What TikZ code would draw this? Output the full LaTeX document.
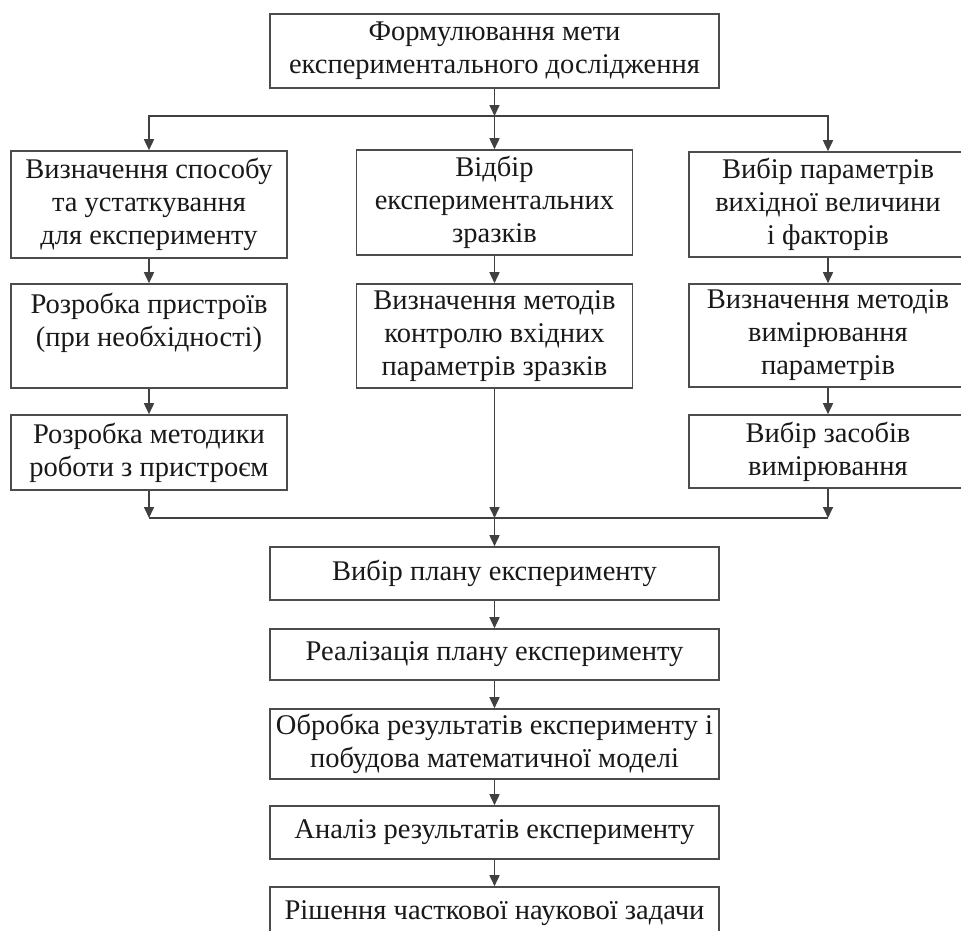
\documentclass[tikz,border=0pt]{standalone}
\usepackage{fontspec}
\setmainfont{Liberation Serif}
\usetikzlibrary{arrows.meta,positioning}

\begin{document}
\begin{tikzpicture}[
  x=1pt, y=-1pt,
  font=\fontsize{28.5}{33}\selectfont,
  stage/.style={draw=black!70, line width=1.6pt, align=center, inner sep=0pt, text=black!90},
  colbox/.style={stage, minimum width=276pt},
  widebox/.style={stage, minimum width=449pt},
  flow/.style={draw=black!75, line width=1.6pt},
  >={Triangle[length=11pt, width=10pt]}
]
\useasboundingbox (0,0) rectangle (961,930);
\fill[white] (0,0) rectangle (961,930);
\node[widebox, minimum height=74pt] (goal) at (494.5,51) {Формулювання мети\\експериментального дослідження};
% left column
\node[colbox, minimum height=107pt] (way) at (149,204.5) {Визначення способу\\та устаткування\\для експерименту};
\node[colbox, minimum height=104pt] (dev) at (149,336) {Розробка пристроїв\\(при необхідності)\\\mbox{}};
\node[colbox, minimum height=75pt] (method) at (149,452.5) {Розробка методики\\роботи з пристроєм};
% middle column
\node[colbox, minimum height=105pt] (samples) at (494.5,202.5) {Відбір\\експериментальних\\зразків};
\node[colbox, minimum height=104pt] (control) at (494.5,336) {Визначення методів\\контролю вхідних\\параметрів зразків};
% right column
\node[colbox, minimum width=278pt, minimum height=105pt] (params) at (828,204.5) {Вибір параметрів\\вихідної величини\\і факторів};
\node[colbox, minimum width=278pt, minimum height=103pt] (measure) at (828,335.5) {Визначення методів\\вимірювання\\параметрів};
\node[colbox, minimum width=278pt, minimum height=73pt] (tools) at (828,451.5) {Вибір засобів\\вимірювання};
% bottom chain
\node[widebox, minimum height=53pt] (plan) at (494.5,573.5) {Вибір плану експерименту};
\node[widebox, minimum height=51pt] (run) at (494.5,654.5) {Реалізація плану експерименту};
\node[widebox, minimum height=70pt] (proc) at (494.5,744) {Обробка результатів експерименту і\\побудова математичної моделі};
\node[widebox, minimum height=53pt] (analysis) at (494.5,832.5) {Аналіз результатів експерименту};
\node[widebox, minimum height=53pt] (solution) at (494.5,913.5) {Рішення часткової наукової задачи};
\coordinate (split) at (494.5,116);
\coordinate (merge) at (494.5,518);
\draw[flow,->] (goal) -- (split);
\draw[flow,->] (split) -- (samples);
\draw[flow,->] (split) -| (way);
\draw[flow,->] (split) -| (params);
\draw[flow,->] (way) -- (dev);
\draw[flow,->] (dev) -- (method);
\draw[flow,->] (samples) -- (control);
\draw[flow,->] (params) -- (measure);
\draw[flow,->] (measure) -- (tools);
\draw[flow,->] (method) -- (method |- merge);
\draw[flow,->] (tools) -- (tools |- merge);
\draw[flow,->] (control) -- (merge);
\draw[flow] (method |- merge) -- (tools |- merge);
\draw[flow,->] (merge) -- (plan);
\draw[flow,->] (plan) -- (run);
\draw[flow,->] (run) -- (proc);
\draw[flow,->] (proc) -- (analysis);
\draw[flow,->] (analysis) -- (solution);
\end{tikzpicture}
\end{document}
